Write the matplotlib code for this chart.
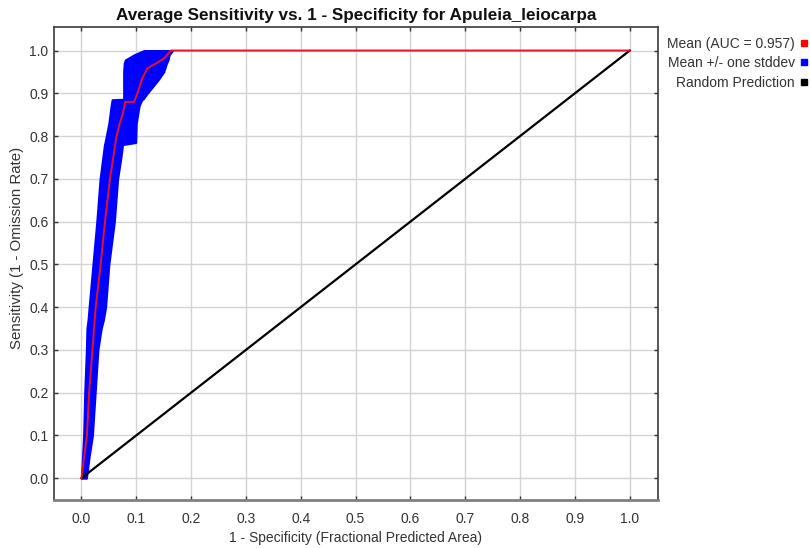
import matplotlib
matplotlib.use("Agg")
import matplotlib.pyplot as plt
from matplotlib.lines import Line2D
import numpy as np

# mean ROC curve (1 - specificity, sensitivity)
mean_fpr = [0.000, 0.005, 0.010, 0.014, 0.020, 0.023, 0.026, 0.035, 0.043, 0.052, 0.058,
            0.064, 0.070, 0.075, 0.080, 0.096, 0.102, 0.111, 0.120, 0.136, 0.151, 0.163, 1.000]
mean_tpr = [0.000, 0.05, 0.10, 0.20, 0.30, 0.35, 0.40, 0.50, 0.60, 0.70, 0.75,
            0.80, 0.83, 0.85, 0.88, 0.88, 0.90, 0.935, 0.958, 0.970, 0.982, 1.000, 1.000]

# +/- one stddev band, given as left / right edge at each sensitivity level
band_tpr = [0.00, 0.05, 0.10, 0.20, 0.30, 0.35, 0.37, 0.40, 0.50, 0.60, 0.70, 0.75, 0.78,
            0.785, 0.83, 0.87, 0.885, 0.886, 0.90, 0.93, 0.95, 0.97, 0.978, 0.99, 1.00]
band_left = [0.000, 0.002, 0.004, 0.006, 0.009, 0.010, 0.012, 0.014, 0.021, 0.028, 0.034, 0.039, 0.042,
             0.043, 0.050, 0.054, 0.056, 0.077, 0.077, 0.077, 0.077, 0.078, 0.080, 0.096, 0.114]
band_right = [0.009, 0.014, 0.020, 0.025, 0.030, 0.036, 0.040, 0.044, 0.050, 0.060, 0.066, 0.072, 0.075,
              0.099, 0.100, 0.105, 0.110, 0.112, 0.120, 0.139, 0.150, 0.155, 0.158, 0.160, 0.166]

random_x = [0.0, 1.0]
random_y = [0.0, 1.0]

auc = 0.957
species = "Apuleia_leiocarpa"

plt.rcParams['font.family'] = ['Liberation Sans', 'DejaVu Sans']
txt_col = '#333333'

fig = plt.figure(figsize=(8.1, 5.48), dpi=100)
ax = fig.add_axes([0.0667, 0.0876, 0.7453, 0.8631])

ax.grid(color='#d4d4d4', linewidth=1.0)
ax.set_axisbelow(True)

ax.fill_betweenx(band_tpr, band_left, band_right, color='#0000ff', linewidth=1.5, edgecolor='#0000ff', zorder=2)
ax.plot(random_x, random_y, color='black', linewidth=1.6, zorder=3)
ax.plot(mean_fpr, mean_tpr, color='#e8102a', linewidth=1.4, zorder=4)

ax.set_xlim(-0.05, 1.051)
ax.set_ylim(-0.051, 1.055)
ticks = np.arange(0, 1.01, 0.1)
ax.set_xticks(ticks)
ax.set_yticks(ticks)
ax.set_xticklabels(["%.1f" % t for t in ticks])
ax.set_yticklabels(["%.1f" % t for t in ticks])
ax.tick_params(direction='in', length=3, width=1, colors='#333333', labelsize=10,
               top=True, right=True)
ax.tick_params(axis='x', pad=9)
ax.tick_params(axis='y', pad=4)
for s in ax.spines.values():
    s.set_color('#3a3a3a')
    s.set_linewidth(1.2)
ax.spines['bottom'].set_color('#808080')
ax.spines['bottom'].set_linewidth(2)

ax.set_title("Average Sensitivity vs. 1 - Specificity for " + species,
             fontsize=12.3, fontweight='bold', pad=5, color='#111111')
ax.set_xlabel("1 - Specificity (Fractional Predicted Area)", fontsize=10, color=txt_col, labelpad=3)
ax.set_ylabel("Sensitivity (1 - Omission Rate)", fontsize=10.8, color=txt_col)
ax.yaxis.set_label_coords(-0.05, 0.534)

handles = [Line2D([], [], marker='s', linestyle='none', color='#ff0000', markersize=4),
           Line2D([], [], marker='s', linestyle='none', color='#0000ff', markersize=4),
           Line2D([], [], marker='s', linestyle='none', color='black', markersize=4)]
labels = ["Mean (AUC = %.3f)" % auc, "Mean +/- one stddev", "Random Prediction"]
leg = fig.legend(handles, labels, loc='upper right', bbox_to_anchor=(1.009, 0.951),
                 frameon=False, markerfirst=False, fontsize=10, labelspacing=0.4,
                 handlelength=0.5, handletextpad=0.4, borderpad=0.2)
for t in leg.get_texts():
    t.set_color(txt_col)

fig.savefig("out.png", dpi=100, facecolor='white')
